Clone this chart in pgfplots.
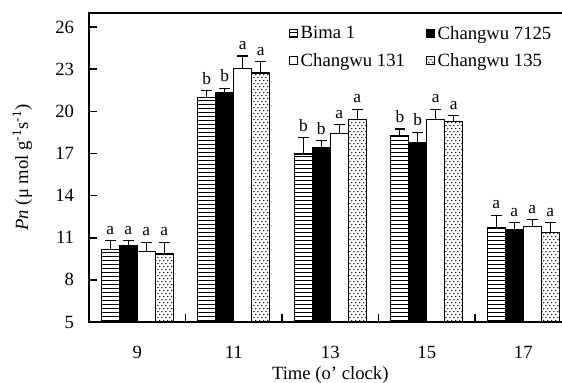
\documentclass[border=0pt]{standalone}
\usepackage{fontspec}
\setmainfont{Liberation Serif}
\usepackage{pgfplots}
\pgfplotsset{compat=1.18}
\usepackage{pgfplotstable}
\usetikzlibrary{patterns}

\pgfdeclarepatternformonly{sdots}{\pgfpointorigin}{\pgfpoint{3.2pt}{4.4pt}}{\pgfpoint{3.2pt}{4.4pt}}{%
  \pgfpathcircle{\pgfpoint{0.8pt}{1.1pt}}{0.62pt}%
  \pgfpathcircle{\pgfpoint{2.4pt}{3.3pt}}{0.62pt}%
  \pgfusepath{fill}}
\pgfdeclarepatternformonly{hlines}{\pgfpoint{-1pt}{0pt}}{\pgfpoint{10pt}{3pt}}{\pgfpoint{10pt}{3pt}}{%
  \pgfsetlinewidth{0.75pt}%
  \pgfpathmoveto{\pgfpoint{-1pt}{1.5pt}}\pgfpathlineto{\pgfpoint{10pt}{1.5pt}}%
  \pgfusepath{stroke}}

\pgfplotstableread{
x y e
0 10.18 0.59
1 20.98 0.47
2 16.96 1.18
3 18.26 0.48
4 11.72 0.87
}\bima
\pgfplotstableread{
x y e
0 10.41 0.36
1 21.33 0.31
2 17.43 0.47
3 17.79 0.71
4 11.60 0.47
}\cwa
\pgfplotstableread{
x y e
0 9.99 0.68
1 23.06 0.88
2 18.45 0.59
3 19.45 0.71
4 11.83 0.47
}\cwb
\pgfplotstableread{
x y e
0 9.84 0.83
1 22.73 0.80
2 19.45 0.71
3 19.28 0.40
4 11.36 0.71
}\cwc
% letter labels: y = top of error bar
\pgfplotstableread{
x y l
0 10.77 a
1 21.45 b
2 18.14 b
3 18.74 b
4 12.59 a
}\lbima
\pgfplotstableread{
x y l
0 10.77 a
1 21.64 b
2 17.90 b
3 18.50 b
4 12.07 a
}\lcwa
\pgfplotstableread{
x y l
0 10.67 a
1 23.94 a
2 19.04 a
3 20.16 a
4 12.30 a
}\lcwb
\pgfplotstableread{
x y l
0 10.67 a
1 23.53 a
2 20.16 a
3 19.68 a
4 12.07 a
}\lcwc

\begin{document}
\begin{tikzpicture}
\begin{axis}[
  scale only axis,
  axis on top,
  width=361.9pt, height=231.75pt,
  xmin=-0.5, xmax=4.5,
  ymin=5, ymax=27,
  ytick={5,8,11,14,17,20,23,26},
  xtick={0.5,1.5,2.5,3.5},
  xticklabels={},
  extra x ticks={0,1,2,3,4},
  extra x tick labels={9,11,13,15,17},
  extra x tick style={major tick length=0pt, xticklabel style={anchor=center, yshift=-22.5pt}},
  xtick align=inside, ytick align=inside,
  xtick pos=bottom, ytick pos=left,
  axis line style={line width=0.8pt},
  major tick length=6pt,
  tick style={line width=1.2pt, black},
  font=\fontsize{14}{16}\selectfont,
  /pgf/number format/assume math mode=true,
  yticklabel style={anchor=east, inner sep=0pt, xshift=-11pt},
  xlabel={Time (o' clock)},
  every axis x label/.style={at={(axis description cs:0.5,0)}, anchor=center, yshift=-39.75pt},
  ylabel={\textit{Pn} (μ mol g\textsuperscript{-1}s\textsuperscript{-1})},
  every axis y label/.style={at={(axis description cs:-0.138,0.5)}, rotate=90, anchor=center},
  bar width=0.186,
  legend columns=2,
  legend cell align=left,
  legend style={draw=none, fill=none, anchor=north west,
    at={(150pt,224pt)}, font=\fontsize{14}{15}\selectfont,
    /tikz/every even column/.append style={column sep=14pt},
    row sep=5pt, inner sep=0pt},
  legend image code/.code={\draw[#1, line width=0.6pt] (0pt,-3pt) rectangle (6pt,3pt);},
  error bars/y dir=plus,
  error bars/y explicit,
  error bars/error mark options={rotate=90, mark size=4pt, line width=0.8pt},
  error bars/error bar style={line width=0.8pt},
  nodes near coords style={font=\fontsize{13}{14}\selectfont, inner sep=1.5pt, yshift=3pt},
]
\addplot[ybar, bar shift=0, draw=black, line width=0.8pt, pattern=hlines]
  table[x expr=\thisrow{x}-0.279, y=y, y error=e] {\bima};
\addlegendentry{Bima 1}
\addplot[ybar, bar shift=0, draw=black, line width=0.8pt, fill=black]
  table[x expr=\thisrow{x}-0.093, y=y, y error=e] {\cwa};
\addlegendentry{Changwu 7125}
\addplot[ybar, bar shift=0, draw=black, line width=0.8pt, fill=white]
  table[x expr=\thisrow{x}+0.093, y=y, y error=e] {\cwb};
\addlegendentry{Changwu 131}
\addplot[ybar, bar shift=0, draw=black, line width=0.8pt, pattern=sdots]
  table[x expr=\thisrow{x}+0.279, y=y, y error=e] {\cwc};
\addlegendentry{Changwu 135}

\addplot[ybar, bar shift=0, draw=none, fill=none, forget plot,
  nodes near coords, point meta=explicit symbolic] table[x expr=\thisrow{x}-0.279, y=y, meta=l] {\lbima};
\addplot[ybar, bar shift=0, draw=none, fill=none, forget plot,
  nodes near coords, point meta=explicit symbolic] table[x expr=\thisrow{x}-0.093, y=y, meta=l] {\lcwa};
\addplot[ybar, bar shift=0, draw=none, fill=none, forget plot,
  nodes near coords, point meta=explicit symbolic] table[x expr=\thisrow{x}+0.093, y=y, meta=l] {\lcwb};
\addplot[ybar, bar shift=0, draw=none, fill=none, forget plot,
  nodes near coords, point meta=explicit symbolic] table[x expr=\thisrow{x}+0.279, y=y, meta=l] {\lcwc};
\end{axis}
\pgfresetboundingbox
\path[use as bounding box] (-66.75pt,-45.75pt) rectangle (354.75pt,241.5pt);
\end{tikzpicture}
\end{document}
